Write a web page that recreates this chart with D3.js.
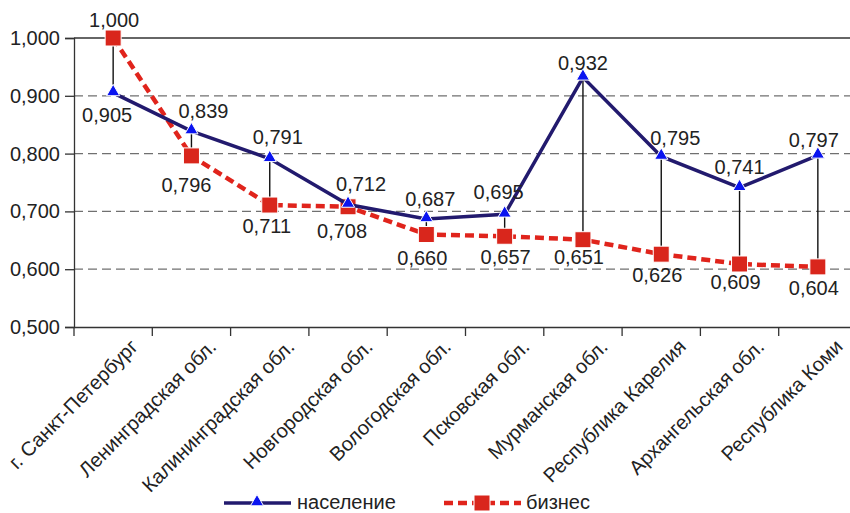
<!DOCTYPE html>
<html><head><meta charset="utf-8">
<script src="https://cdn.jsdelivr.net/npm/d3@7"></script>
<style>body{margin:0;background:#fff}svg{display:block}text{font-family:"Liberation Sans",Arial,sans-serif;fill:#222}</style>
</head><body>
<svg id="c" width="850" height="513"></svg>
<script>
const categories = ["г. Санкт-Петербург","Ленинградская обл.","Калининградская обл.","Новгородская обл.","Вологодская обл.","Псковская обл.","Мурманская обл.","Республика Карелия","Архангельская обл.","Республика Коми"];
const population = [0.905,0.839,0.791,0.712,0.687,0.695,0.932,0.795,0.741,0.797];
const business = [1.000,0.796,0.711,0.708,0.660,0.657,0.651,0.626,0.609,0.604];
const yTicks = [0.5,0.6,0.7,0.8,0.9,1.0];
const seriesNames = ["население","бизнес"];
// label placement (layout only)
const popLab = [[-6,29],[12,-13],[8,-15],[13,-13],[4,-13],[-6,-15],[0,-7],[14,-11],[0,-14],[-4,-8]];
const bizLab = [[1,-11],[-5,36],[-3,28],[-6,31],[-4,30],[1,28],[-4,24],[-4,28],[-4,25],[-4,28]];
const FS = "20px";

const svg = d3.select("#c");
const fmt = v => d3.format(".3f")(v).replace(".", ",");
const x = d3.scaleBand().domain(categories).range([74, 857]);
const y = d3.scaleLinear().domain([0.5,1.0]).range([327, 38]);
const cx = d => x(d) + x.bandwidth()/2;

// grid
svg.append("g").selectAll("line").data(yTicks.filter(t => t>0.5 && t<1)).join("line")
  .attr("x1",74).attr("x2",850).attr("y1",d=>y(d)).attr("y2",d=>y(d))
  .attr("stroke","#707070").attr("stroke-width",1.3).attr("stroke-dasharray","9,5");
svg.append("line").attr("x1",74).attr("x2",850).attr("y1",y(1)).attr("y2",y(1)).attr("stroke","#333").attr("stroke-width",1.3);

// y axis
const ya = svg.append("g").attr("transform","translate(74,0)")
  .call(d3.axisLeft(y).tickValues(yTicks).tickFormat(fmt).tickSize(9).tickPadding(5));
ya.select(".domain").attr("stroke","#333").attr("stroke-width",1.3);
ya.selectAll(".tick line").attr("stroke","#333").attr("stroke-width",1.3);
ya.selectAll("text").style("font-size",FS).style("font-family","Liberation Sans, Arial").attr("fill","#222");

// x axis
const xa = svg.append("g").attr("transform","translate(0,327)")
  .call(d3.axisBottom(x).tickValues([]).tickSizeOuter(0));
xa.select(".domain").attr("stroke","#333").attr("stroke-width",1.3);
const bounds = categories.map(c => x(c)).concat([x(categories[categories.length-1]) + x.bandwidth()]);
svg.append("g").selectAll("line").data(bounds).join("line")
  .attr("x1",d=>d).attr("x2",d=>d).attr("y1",327).attr("y2",336)
  .attr("stroke","#333").attr("stroke-width",1.3);
svg.append("g").selectAll("text").data(categories).join("text")
  .attr("transform", d => `translate(${cx(d)+21},${343}) rotate(-45)`)
  .attr("text-anchor","end").attr("dy","0.35em")
  .style("font-size",FS).text(d=>d);

// connectors
svg.append("g").selectAll("line").data(categories).join("line")
  .attr("x1",d=>cx(d)).attr("x2",d=>cx(d))
  .attr("y1",(d,i)=>y(population[i])).attr("y2",(d,i)=>y(business[i]))
  .attr("stroke","#111").attr("stroke-width",1.4);

// business
const line = d3.line().x((d,i)=>cx(categories[i])).y(d=>y(d));
svg.append("path").datum(business).attr("d",line).attr("fill","none")
  .attr("stroke","#e0241c").attr("stroke-width",4.5).attr("stroke-dasharray","9,5");
svg.append("g").selectAll("rect").data(business).join("rect")
  .attr("x",(d,i)=>cx(categories[i])-8).attr("y",d=>y(d)-8).attr("width",16).attr("height",16)
  .attr("fill","#d9261c").attr("stroke","#fff").attr("stroke-width",1);

// population
svg.append("path").datum(population).attr("d",line).attr("fill","none")
  .attr("stroke","#221a6e").attr("stroke-width",3.5);
const tri = d3.symbol().type(d3.symbolTriangle).size(75);
svg.append("g").selectAll("path").data(population).join("path")
  .attr("d",tri).attr("transform",(d,i)=>`translate(${cx(categories[i])},${y(d)-1})`)
  .attr("fill","#0a14f0").attr("stroke","#fff").attr("stroke-width",1);

// labels
svg.append("g").selectAll("text").data(population).join("text")
  .attr("x",(d,i)=>cx(categories[i])+popLab[i][0]).attr("y",(d,i)=>y(d)+popLab[i][1])
  .attr("text-anchor","middle").style("font-size",FS).text(fmt);
svg.append("g").selectAll("text").data(business).join("text")
  .attr("x",(d,i)=>cx(categories[i])+bizLab[i][0]).attr("y",(d,i)=>y(d)+bizLab[i][1])
  .attr("text-anchor","middle").style("font-size",FS).text(fmt);

// legend
const lg = svg.append("g");
lg.append("line").attr("x1",224).attr("x2",291).attr("y1",503).attr("y2",503).attr("stroke","#221a6e").attr("stroke-width",3.5);
lg.append("path").attr("d",tri).attr("transform","translate(257,502)").attr("fill","#0a14f0").attr("stroke","#fff");
lg.append("text").attr("x",297).attr("y",509).style("font-size",FS).text(seriesNames[0]);
lg.append("line").attr("x1",444).attr("x2",521).attr("y1",503).attr("y2",503).attr("stroke","#e0241c").attr("stroke-width",4.5).attr("stroke-dasharray","9,5");
lg.append("rect").attr("x",474).attr("y",495).attr("width",16).attr("height",16).attr("fill","#d9261c").attr("stroke","#fff");
lg.append("text").attr("x",526).attr("y",509).style("font-size",FS).text(seriesNames[1]);
</script>
</body></html>
